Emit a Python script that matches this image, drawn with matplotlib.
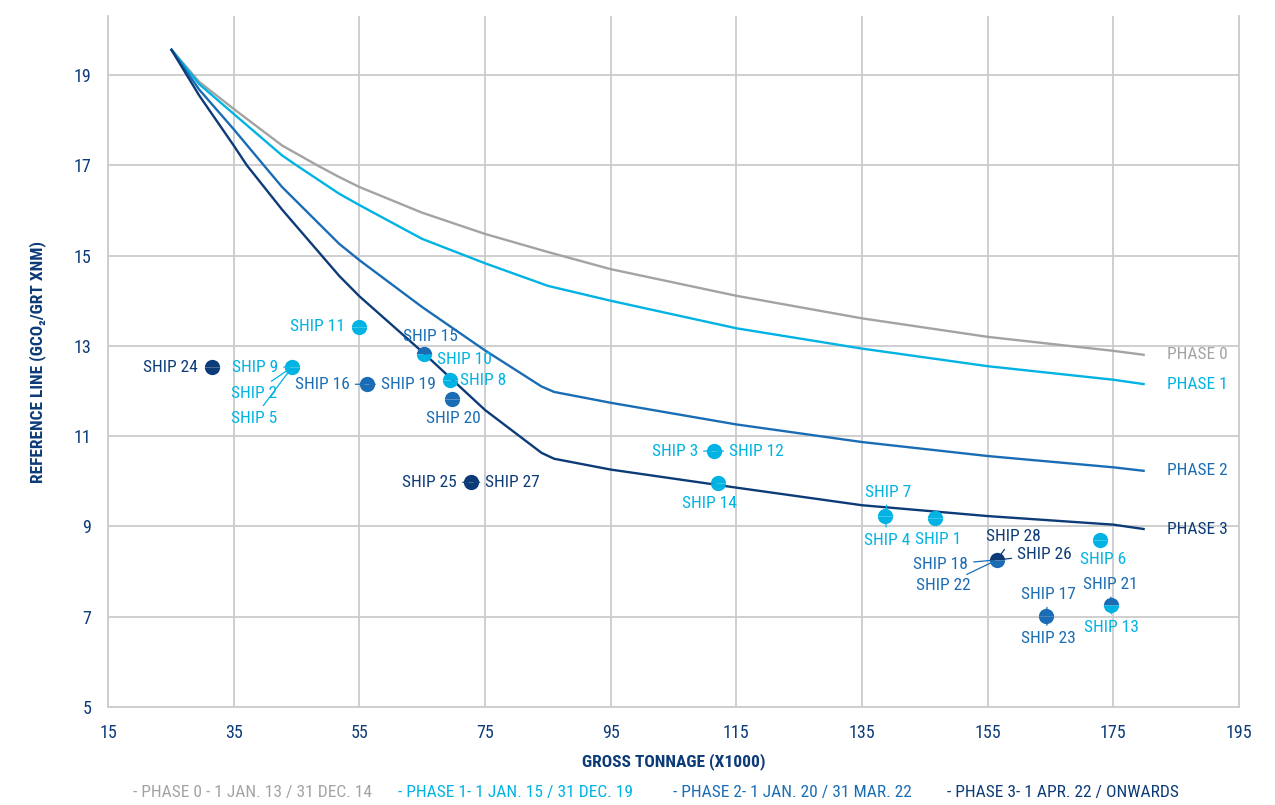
import matplotlib
matplotlib.use('Agg')
from matplotlib import pyplot as plt
import matplotlib.font_manager as fm

GRAY = '#a3a3a3'
LIGHT = '#00b3e3'
MID = '#1a6db4'
NAVY = '#0c3b78'
GRID = '#cccccc'

# reference lines (gross tonnage x1000, gCO2/GRT xNM)
phase0_x = [25, 29.5, 35, 42.7, 48.3, 51.8, 55, 65, 75, 85, 95, 115, 135, 155, 175, 180]
phase0_y = [19.58, 18.85, 18.25, 17.44, 17.00, 16.74, 16.52, 15.95, 15.48, 15.08,
            14.70, 14.11, 13.61, 13.20, 12.89, 12.80]
phase1_x = [25, 29.5, 35, 42.7, 45, 51.8, 55, 65, 75, 85, 95, 115, 135, 155, 175, 180]
phase1_y = [19.58, 18.80, 18.14, 17.22, 17.00, 16.37, 16.12, 15.37, 14.83, 14.33,
            14.00, 13.39, 12.94, 12.55, 12.25, 12.15]
phase2_x = [25, 29.5, 35, 39.8, 42.7, 51.8, 55, 65, 75, 84, 86, 95, 115, 135, 155, 175, 180]
phase2_y = [19.58, 18.68, 17.80, 17.00, 16.52, 15.26, 14.90, 13.86, 12.90, 12.10,
            11.98, 11.74, 11.26, 10.87, 10.56, 10.31, 10.23]
phase3_x = [25, 29.5, 35, 37.1, 42.7, 51.8, 55, 65, 75, 84, 86, 95, 115, 135, 155, 175, 180]
phase3_y = [19.58, 18.55, 17.44, 17.00, 16.02, 14.55, 14.10, 12.87, 11.58, 10.63,
            10.50, 10.26, 9.86, 9.47, 9.23, 9.04, 8.94]
phase_names = ['PHASE 0', 'PHASE 1', 'PHASE 2', 'PHASE 3']
phase_colors = [GRAY, LIGHT, MID, NAVY]
legend_text = ['- PHASE 0 - 1 JAN. 13 / 31 DEC. 14',
               '- PHASE 1- 1 JAN. 15 / 31 DEC. 19',
               '- PHASE 2- 1 JAN. 20 / 31 MAR. 22',
               '- PHASE 3- 1 APR. 22 / ONWARDS']

# ships: one marker per position, top / bottom colours
ship_x = [31.5, 44.3, 55.0, 65.3, 56.2, 69.4, 69.75, 72.8, 111.45, 112.1,
          138.7, 146.6, 156.5, 164.3, 172.9, 174.6]
ship_y = [12.53, 12.53, 13.42, 12.82, 12.15, 12.24, 11.82, 9.98, 10.67, 9.96,
          9.23, 9.19, 8.26, 7.01, 8.70, 7.26]
ship_top = [NAVY, LIGHT, LIGHT, MID, MID, LIGHT, MID, NAVY, LIGHT, LIGHT,
            LIGHT, LIGHT, NAVY, MID, LIGHT, MID]
ship_bot = [NAVY, LIGHT, LIGHT, LIGHT, MID, LIGHT, MID, NAVY, LIGHT, LIGHT,
            LIGHT, LIGHT, MID, MID, LIGHT, LIGHT]

# labels: (text, marker index, colour)
labels = [('SHIP 24', 0, NAVY), ('SHIP 9', 1, LIGHT), ('SHIP 2', 1, LIGHT),
          ('SHIP 5', 1, LIGHT), ('SHIP 11', 2, LIGHT), ('SHIP 15', 3, MID),
          ('SHIP 10', 3, LIGHT), ('SHIP 16', 4, MID), ('SHIP 19', 4, MID),
          ('SHIP 8', 5, LIGHT), ('SHIP 20', 6, MID), ('SHIP 25', 7, NAVY),
          ('SHIP 27', 7, NAVY), ('SHIP 3', 8, LIGHT), ('SHIP 12', 8, LIGHT),
          ('SHIP 14', 9, LIGHT), ('SHIP 7', 10, LIGHT), ('SHIP 4', 10, LIGHT),
          ('SHIP 1', 11, LIGHT), ('SHIP 28', 12, NAVY), ('SHIP 26', 12, NAVY),
          ('SHIP 18', 12, MID), ('SHIP 22', 12, MID), ('SHIP 17', 13, MID),
          ('SHIP 23', 13, MID), ('SHIP 6', 14, LIGHT), ('SHIP 21', 15, MID),
          ('SHIP 13', 15, LIGHT)]

# label placement in pixels from the marker: dx, dy, ha, connector
offsets = {
    'SHIP 24': (-14, 0, 'right', False), 'SHIP 9': (-14, 0, 'right', True),
    'SHIP 2': (-15, -26, 'right', True), 'SHIP 5': (-15, -51, 'right', True),
    'SHIP 11': (-14, 0, 'right', False), 'SHIP 15': (6, 18, 'center', True),
    'SHIP 10': (13, -5, 'left', True), 'SHIP 16': (-17, 0, 'right', True),
    'SHIP 19': (14, 0, 'left', True), 'SHIP 8': (10, 0, 'left', False),
    'SHIP 20': (1, -19, 'center', False), 'SHIP 25': (-14, 0, 'right', True),
    'SHIP 27': (14, 0, 'left', True), 'SHIP 3': (-16, 0, 'right', True),
    'SHIP 12': (15, 0, 'left', True), 'SHIP 14': (-9, -20, 'center', False),
    'SHIP 7': (3, 24, 'center', True), 'SHIP 4': (2, -24, 'center', True),
    'SHIP 1': (3, -22, 'center', False), 'SHIP 28': (16, 23, 'center', True),
    'SHIP 26': (20, 5, 'left', True), 'SHIP 18': (-29, -5, 'right', True),
    'SHIP 22': (-27, -26, 'right', True), 'SHIP 17': (2, 22, 'center', True),
    'SHIP 23': (2, -22, 'center', True), 'SHIP 6': (3, -19, 'center', False),
    'SHIP 21': (0, 21, 'center', True), 'SHIP 13': (1, -22, 'center', True),
}


def pick_narrow_font():
    """find a condensed sans family, the original uses a DIN-like narrow face"""
    found = {}
    for f in fm.fontManager.ttflist:
        st = str(f.stretch).lower()
        if 'narrow' in f.name.lower() or 'condensed' in f.name.lower():
            found.setdefault(f.name, 'normal')
        elif 'condensed' in st:
            found.setdefault(f.name, st)
    for want in ['Roboto Condensed', 'Liberation Sans Narrow', 'Noto Sans Condensed',
                 'Noto Sans', 'Open Sans Condensed', 'DejaVu Sans Condensed', 'DejaVu Sans']:
        if want in found:
            return want, found[want]
    for name in found:
        return name, found[name]
    return 'DejaVu Sans', 'normal'


fam, stretch = pick_narrow_font()
plt.rcParams['font.family'] = [fam, 'DejaVu Sans']
plt.rcParams['font.stretch'] = stretch
FS = 12.5 if stretch != 'normal' or fam != 'DejaVu Sans' else 11

fig = plt.figure(figsize=(12.75, 8.05), dpi=100)
ax = fig.add_axes([0.0847, 0.1217, 0.8871, 0.858])

xs = [phase0_x, phase1_x, phase2_x, phase3_x]
ys = [phase0_y, phase1_y, phase2_y, phase3_y]
for px, py, c, name in zip(xs, ys, phase_colors, phase_names):
    ax.plot(px, py, color=c, lw=1.7, zorder=3, solid_capstyle='butt',
            solid_joinstyle='round')
    ax.annotate(name, (px[-1], py[-1]), xytext=(22, 0), textcoords='offset pixels',
                color=c, fontsize=FS, va='center', ha='left')

for x, y, t, b in zip(ship_x, ship_y, ship_top, ship_bot):
    ax.plot([x], [y], 'o', ms=11, fillstyle='top', markerfacecolor=t,
            markerfacecoloralt=b, markeredgewidth=0, zorder=6)

for text, i, c in labels:
    dx, dy, ha, line = offsets[text]
    arrow = None
    if line:
        arrow = dict(arrowstyle='-', color=c, lw=0.9, shrinkA=2, shrinkB=2)
    ax.annotate(text, (ship_x[i], ship_y[i]), xytext=(dx, dy),
                textcoords='offset pixels', color=c, fontsize=FS,
                ha=ha, va='center', arrowprops=arrow, zorder=5)

ax.set_xlim(15, 195)
ax.set_ylim(5, 20.3)
ax.set_xticks(range(15, 196, 20))
ax.set_yticks(range(5, 20, 2))
ax.grid(True, color=GRID, lw=1.3)
ax.set_axisbelow(True)
ax.tick_params(length=0, labelsize=FS + 0.5, labelcolor=NAVY, pad=12)
for s in ['left', 'bottom', 'right']:
    ax.spines[s].set_color(GRID)
    ax.spines[s].set_linewidth(1.3)
ax.spines['top'].set_visible(False)

ax.set_xlabel('GROSS TONNAGE (X1000)', color=NAVY, fontsize=FS,
              fontweight='bold', labelpad=8)
ax.set_ylabel('REFERENCE LINE (GCO\u2082/GRT XNM)', color=NAVY, fontsize=FS,
              fontweight='bold', labelpad=20)

leg_x = [133, 398, 673, 947]
for t, c, lx in zip(legend_text, phase_colors, leg_x):
    fig.text(lx / 1275, 1 - 792 / 805, t, color=c, fontsize=FS,
             ha='left', va='center')

fig.savefig('out.png', dpi=100)
